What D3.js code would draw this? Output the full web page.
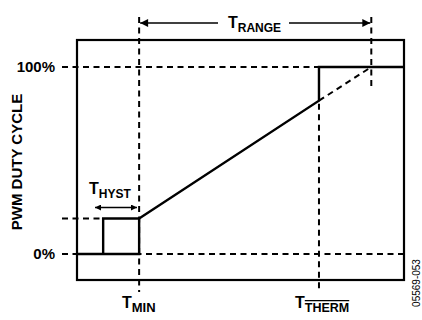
<!DOCTYPE html>
<html>
<head>
<meta charset="utf-8">
<script src="https://cdn.jsdelivr.net/npm/d3@7"></script>
<style>
  body { margin: 0; background: #fff; }
  text { font-family: "Liberation Sans", Arial, sans-serif; font-weight: bold; fill: #000; }
</style>
</head>
<body>
<div id="chart"></div>
<script>
// temperatures (arbitrary units) and duty cycle (%)
var tHystStart = 8, tMin = 19, tTherm = 74, tRangeEnd = 90;
var dutyMin = 19, dutyAtTherm = 82;

// hysteresis loop (temp, duty)
var loopTemps  = [0, tMin, tMin, tHystStart, tHystStart];
var loopDuties = [0, 0, dutyMin, dutyMin, 0];
// ramp and full-speed step
var rampTemps  = [tMin, tTherm, tTherm, 100];
var rampDuties = [dutyMin, dutyAtTherm, 100, 100];
// dashed continuation of the ramp
var extTemps  = [tTherm, tRangeEnd];
var extDuties = [dutyAtTherm, 100];

var yTicks = [0, 100];
var yTickLabels = ["0%", "100%"];

var W = 422, H = 320;
var margin = {top: 40, right: 18, bottom: 40, left: 77};

var svg = d3.select("#chart").append("svg")
  .attr("width", W).attr("height", H);

var x = d3.scaleLinear().domain([0, 100]).range([margin.left, W - margin.right]);
var y = d3.scaleLinear().domain([0, 100]).range([254, 67]);

var solidW = 2.4, dashW = 2;
var dash = "6,4.5";

// frame
svg.append("rect")
  .attr("x", x(0)).attr("y", margin.top)
  .attr("width", x(100) - x(0)).attr("height", H - margin.bottom - margin.top)
  .attr("fill", "none").attr("stroke", "#000").attr("stroke-width", 2.2);

// dashed guides
function dashed(x1, y1, x2, y2) {
  svg.append("line")
    .attr("x1", x1).attr("y1", y1).attr("x2", x2).attr("y2", y2)
    .attr("stroke", "#000").attr("stroke-width", dashW)
    .attr("stroke-dasharray", dash);
}
dashed(62, y(100), x(tTherm), y(100));
dashed(62, y(0), x(100), y(0));
dashed(62, y(dutyMin), x(tHystStart), y(dutyMin));
dashed(x(tMin), 17, x(tMin), 292);
dashed(x(tRangeEnd), 17, x(tRangeEnd), 88);
dashed(x(tTherm), y(dutyAtTherm) + 3, x(tTherm), 292);

var line = d3.line()
  .x(function(d) { return x(d[0]); })
  .y(function(d) { return y(d[1]); });

function zip(a, b) { return a.map(function(t, i) { return [t, b[i]]; }); }

svg.append("path")
  .datum(zip(extTemps, extDuties))
  .attr("d", line)
  .attr("fill", "none").attr("stroke", "#000").attr("stroke-width", dashW)
  .attr("stroke-dasharray", dash);

[zip(loopTemps, loopDuties), zip(rampTemps, rampDuties)].forEach(function(pts) {
  svg.append("path")
    .datum(pts)
    .attr("d", line)
    .attr("fill", "none").attr("stroke", "#000").attr("stroke-width", solidW)
    .attr("stroke-linejoin", "miter");
});

// y tick labels
svg.selectAll(".ylab")
  .data(yTicks)
  .enter().append("text")
    .attr("x", 55).attr("y", function(d) { return y(d) + 5; })
    .attr("text-anchor", "end")
    .style("font-size", "15px")
    .text(function(d, i) { return yTickLabels[i]; });

svg.append("text")
  .attr("transform", "translate(22,162) rotate(-90)")
  .attr("text-anchor", "middle")
  .style("font-size", "15px")
  .text("PWM DUTY CYCLE");

// arrows
var defs = svg.append("defs");
function marker(id, size) {
  defs.append("marker")
    .attr("id", id).attr("viewBox", "0 0 10 10")
    .attr("refX", 10).attr("refY", 5)
    .attr("markerUnits", "userSpaceOnUse")
    .attr("markerWidth", size).attr("markerHeight", size * 0.5)
    .attr("orient", "auto-start-reverse")
    .append("path").attr("d", "M0,0L10,5L0,10Z").attr("fill", "#000");
}
marker("big", 16);
marker("small", 12);

svg.append("line")
  .attr("x1", 218).attr("y1", 23).attr("x2", x(tMin) + 1).attr("y2", 23)
  .attr("stroke", "#000").attr("stroke-width", 1.6).attr("marker-end", "url(#big)");
svg.append("line")
  .attr("x1", 289).attr("y1", 23).attr("x2", x(tRangeEnd) - 1).attr("y2", 23)
  .attr("stroke", "#000").attr("stroke-width", 1.6).attr("marker-end", "url(#big)");
svg.append("line")
  .attr("x1", 95).attr("y1", 207.5).attr("x2", 137).attr("y2", 207.5)
  .attr("stroke", "#000").attr("stroke-width", 1.6)
  .attr("marker-start", "url(#small)").attr("marker-end", "url(#small)");

// T labels with subscripts
function tLabel(xp, yp, sub, subSize, over) {
  var t = svg.append("text").attr("x", xp).attr("y", yp).style("font-size", "16px");
  t.append("tspan").text("T");
  var s = t.append("tspan").attr("dy", 4).style("font-size", subSize + "px").text(sub);
  if (over) s.style("text-decoration", "overline");
  return t;
}
tLabel(228, 28, "RANGE", 12);
tLabel(89, 194, "HYST", 12);
tLabel(122, 308, "MIN", 13);
tLabel(295, 308, "THERM", 12.5, true);

svg.append("text")
  .attr("transform", "translate(420,283) rotate(-90)")
  .attr("text-anchor", "middle")
  .style("font-weight", "normal")
  .style("font-size", "10px")
  .text("05569-053");
</script>
</body>
</html>
